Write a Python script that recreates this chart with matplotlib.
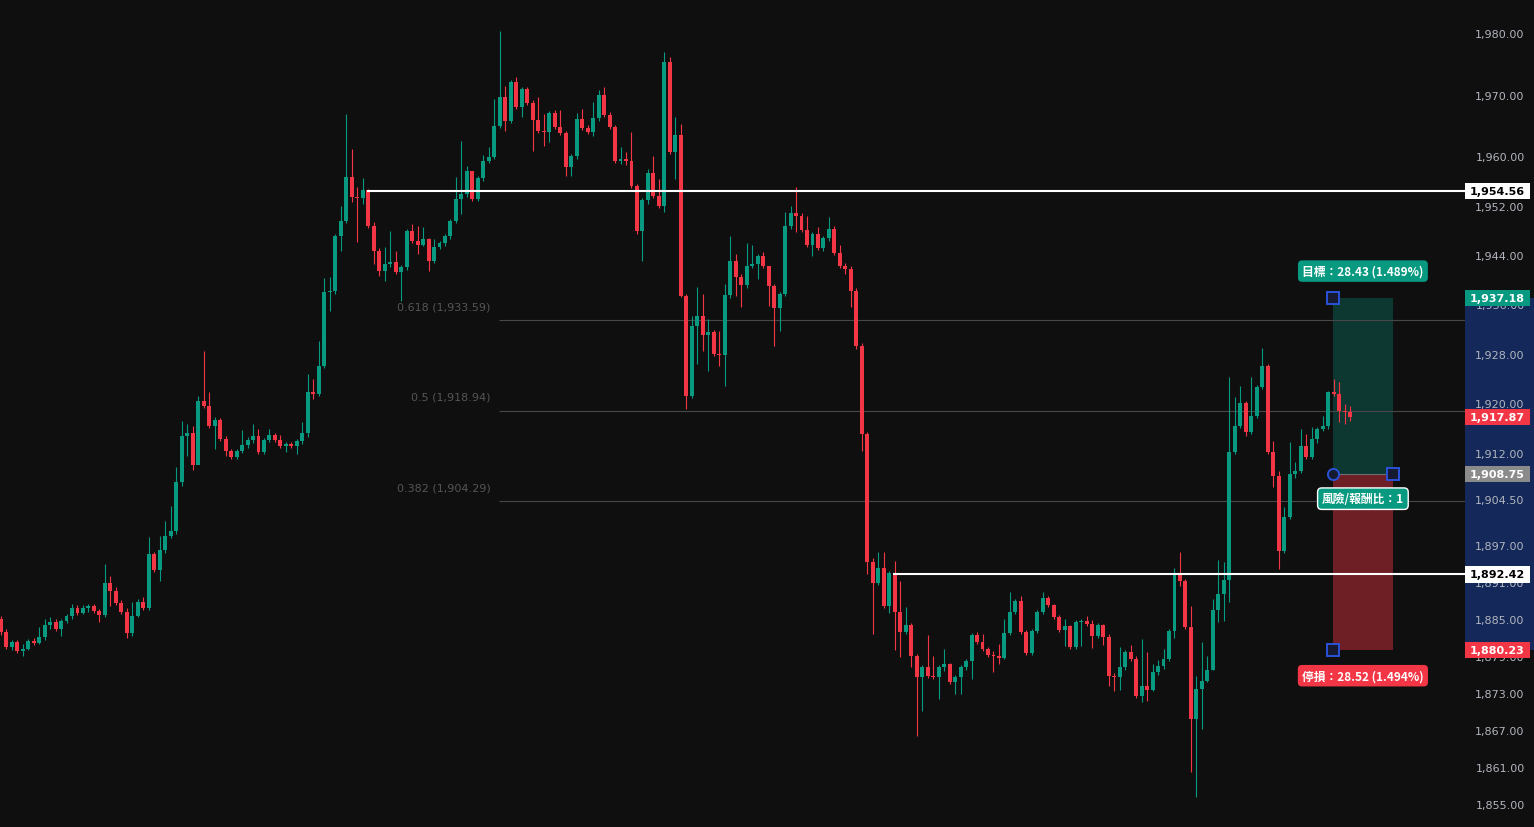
import numpy as np
import matplotlib
matplotlib.use("Agg")
import matplotlib.pyplot as plt
from matplotlib.patches import Rectangle

# ---------------- data ----------------
first_open = 1885.21
closes = [
    1883.10, 1880.67, 1881.48, 1880.03, 1880.35, 1881.65, 1881.32, 1882.29, 1884.24, 1884.72,
    1883.59, 1884.89, 1885.70, 1886.99, 1886.18, 1886.99, 1887.32, 1886.51, 1885.86, 1891.04,
    1889.75, 1887.80, 1886.34, 1882.94, 1885.70, 1887.96, 1886.99, 1895.74, 1893.15, 1896.39,
    1898.66, 1899.47, 1907.40, 1914.86, 1915.34, 1910.16, 1920.53, 1919.72, 1916.48, 1917.45,
    1914.37, 1912.43, 1911.45, 1912.43, 1913.40, 1914.21, 1914.86, 1912.26, 1914.21, 1915.02,
    1914.21, 1913.24, 1913.56, 1913.24, 1914.05, 1915.34, 1921.98, 1921.66, 1926.20, 1938.18,
    1938.35, 1947.26, 1949.69, 1956.81, 1953.57, 1953.41, 1954.71, 1948.88, 1944.83, 1941.59,
    1942.72, 1943.04, 1941.42, 1942.23, 1948.07, 1946.45, 1945.80, 1946.77, 1943.21, 1945.47,
    1946.12, 1947.26, 1949.69, 1953.25, 1954.06, 1957.79, 1953.25, 1956.65, 1959.41, 1960.05,
    1965.08, 1969.77, 1965.89, 1972.20, 1968.15, 1971.07, 1968.80, 1966.05, 1964.27, 1964.10,
    1967.18, 1964.91, 1963.94, 1958.43, 1960.22, 1966.21, 1964.75, 1964.10, 1966.37, 1970.10,
    1966.86, 1964.91, 1959.41, 1959.73, 1959.41, 1955.36, 1948.07, 1953.09, 1957.46, 1953.74,
    1952.12, 1975.44, 1960.86, 1963.62, 1937.54, 1921.34, 1932.68, 1934.30, 1931.22, 1931.70,
    1928.14, 1927.98, 1937.70, 1943.21, 1940.61, 1939.32, 1942.40, 1942.72, 1944.02, 1942.40,
    1939.16, 1935.59, 1937.86, 1948.88, 1950.98, 1950.50, 1948.23, 1945.80, 1947.58, 1945.31,
    1946.93, 1948.39, 1944.50, 1942.40, 1941.91, 1938.35, 1929.44, 1915.18, 1894.44, 1891.04,
    1893.47, 1887.32, 1892.66, 1886.34, 1883.10, 1884.24, 1879.22, 1875.81, 1877.43, 1875.98,
    1875.81, 1877.43, 1877.92, 1875.00, 1875.81, 1877.43, 1878.41, 1882.62, 1881.48, 1880.35,
    1879.38, 1879.22, 1878.89, 1882.94, 1886.34, 1888.13, 1883.10, 1879.70, 1883.27, 1886.34,
    1888.61, 1887.48, 1885.53, 1883.43, 1884.08, 1880.67, 1884.72, 1884.89, 1884.40, 1882.46,
    1884.24, 1882.29, 1875.98, 1875.81, 1877.43, 1879.86, 1878.73, 1872.74, 1874.36, 1873.71,
    1876.62, 1877.60, 1878.73, 1883.27, 1892.50, 1891.37, 1883.91, 1869.01, 1873.87, 1875.17,
    1876.95, 1886.67, 1889.26, 1891.53, 1912.26, 1916.48, 1920.20, 1915.50, 1918.10, 1922.79,
    1926.20, 1912.26, 1908.38, 1896.23, 1901.73, 1908.70, 1909.19, 1913.24, 1911.45, 1914.37,
    1915.99, 1916.48, 1921.98, 1921.66, 1918.91, 1918.74, 1917.87,
]
highs = [
    1885.70, 1883.59, 1881.81, 1881.81, 1881.16, 1881.97, 1882.13, 1883.91, 1885.21, 1885.53,
    1885.21, 1885.21, 1886.02, 1887.64, 1887.48, 1887.48, 1887.64, 1887.64, 1886.83, 1894.12,
    1892.18, 1890.39, 1888.29, 1886.99, 1887.96, 1888.45, 1888.77, 1898.49, 1896.06, 1898.66,
    1901.09, 1903.52, 1909.83, 1917.29, 1916.80, 1916.48, 1921.34, 1928.63, 1921.98, 1917.93,
    1917.77, 1914.86, 1912.75, 1912.75, 1915.83, 1914.69, 1916.80, 1915.99, 1914.53, 1915.99,
    1915.34, 1915.02, 1913.88, 1913.88, 1914.37, 1917.12, 1924.90, 1924.09, 1930.25, 1940.45,
    1940.61, 1947.58, 1952.12, 1967.02, 1961.35, 1955.19, 1956.65, 1954.87, 1949.52, 1945.31,
    1945.47, 1948.07, 1944.83, 1942.56, 1948.39, 1949.20, 1948.88, 1948.71, 1946.93, 1946.77,
    1946.45, 1947.58, 1950.01, 1956.81, 1962.65, 1958.60, 1957.79, 1956.98, 1960.38, 1961.67,
    1969.45, 1980.47, 1971.56, 1972.53, 1973.01, 1971.39, 1971.39, 1969.29, 1969.77, 1967.02,
    1967.51, 1967.67, 1967.67, 1964.27, 1960.54, 1967.18, 1967.83, 1965.24, 1968.96, 1970.91,
    1971.39, 1967.34, 1965.24, 1961.67, 1960.86, 1964.10, 1955.68, 1953.41, 1958.11, 1960.22,
    1956.49, 1977.06, 1976.25, 1966.53, 1965.40, 1937.86, 1934.30, 1938.99, 1937.86, 1933.81,
    1932.03, 1931.87, 1939.48, 1947.26, 1944.34, 1941.10, 1946.12, 1945.80, 1944.34, 1944.66,
    1942.40, 1939.48, 1938.18, 1951.14, 1952.12, 1955.19, 1950.98, 1950.50, 1947.90, 1948.71,
    1947.26, 1950.33, 1948.88, 1945.80, 1942.88, 1942.40, 1938.83, 1929.92, 1915.50, 1895.09,
    1896.06, 1896.06, 1892.99, 1894.61, 1891.37, 1887.15, 1884.56, 1879.54, 1877.76, 1882.62,
    1879.22, 1877.76, 1880.35, 1878.08, 1876.14, 1877.76, 1878.73, 1882.94, 1883.10, 1882.78,
    1880.67, 1880.03, 1881.16, 1885.21, 1889.58, 1888.45, 1888.94, 1883.43, 1883.59, 1886.67,
    1889.58, 1888.94, 1887.64, 1885.86, 1885.21, 1884.24, 1885.05, 1885.21, 1885.70, 1885.05,
    1884.56, 1884.40, 1882.78, 1876.46, 1880.67, 1880.19, 1881.00, 1879.22, 1881.97, 1879.86,
    1877.92, 1878.57, 1880.35, 1883.59, 1893.47, 1896.06, 1891.69, 1887.32, 1875.98, 1881.48,
    1879.22, 1888.45, 1894.77, 1894.44, 1924.41, 1921.17, 1922.96, 1920.53, 1924.41, 1923.12,
    1929.11, 1926.52, 1914.05, 1909.19, 1903.35, 1913.88, 1910.64, 1915.99, 1915.18, 1916.31,
    1916.31, 1918.10, 1922.15, 1924.09, 1923.60, 1920.04, 1919.72,
]
lows = [
    1882.62, 1880.35, 1880.19, 1879.70, 1879.22, 1880.19, 1881.00, 1881.16, 1881.81, 1883.59,
    1883.27, 1882.46, 1884.56, 1885.21, 1885.86, 1886.02, 1886.34, 1886.18, 1884.72, 1885.53,
    1887.32, 1887.48, 1886.02, 1882.13, 1882.46, 1885.53, 1886.67, 1886.67, 1892.82, 1891.37,
    1895.90, 1898.33, 1898.98, 1906.76, 1911.62, 1909.35, 1910.32, 1919.39, 1916.15, 1912.75,
    1914.05, 1911.62, 1911.13, 1911.13, 1912.10, 1912.91, 1913.72, 1911.94, 1911.94, 1913.88,
    1913.88, 1912.91, 1912.26, 1912.91, 1911.94, 1913.56, 1914.69, 1920.85, 1921.34, 1925.87,
    1935.11, 1937.86, 1944.83, 1949.36, 1952.76, 1946.28, 1952.44, 1948.55, 1942.72, 1940.78,
    1939.97, 1942.23, 1941.10, 1936.73, 1941.75, 1946.12, 1944.34, 1945.64, 1941.59, 1942.88,
    1945.15, 1945.64, 1946.77, 1949.36, 1950.82, 1953.57, 1952.93, 1952.93, 1956.17, 1959.08,
    1959.73, 1964.75, 1964.27, 1965.56, 1967.83, 1966.53, 1968.48, 1961.03, 1963.94, 1961.84,
    1962.48, 1964.59, 1963.62, 1956.98, 1956.98, 1959.73, 1964.43, 1963.78, 1963.46, 1965.89,
    1966.53, 1964.59, 1959.08, 1958.92, 1958.76, 1955.03, 1947.58, 1943.21, 1952.44, 1953.41,
    1951.79, 1951.14, 1960.54, 1956.49, 1937.37, 1919.23, 1921.01, 1926.52, 1928.63, 1925.39,
    1927.82, 1926.20, 1922.96, 1937.21, 1937.54, 1935.75, 1938.83, 1942.07, 1940.29, 1942.07,
    1935.92, 1929.44, 1931.87, 1937.54, 1948.39, 1947.90, 1947.90, 1945.47, 1944.02, 1944.99,
    1944.83, 1946.45, 1944.18, 1942.07, 1941.10, 1935.75, 1928.95, 1912.43, 1892.50, 1882.78,
    1890.72, 1886.99, 1886.18, 1880.19, 1879.05, 1882.78, 1877.43, 1866.26, 1870.31, 1875.65,
    1875.49, 1872.25, 1876.79, 1874.68, 1873.06, 1873.06, 1876.95, 1875.49, 1881.16, 1880.03,
    1879.05, 1876.62, 1877.92, 1878.73, 1882.62, 1886.02, 1882.78, 1879.38, 1879.38, 1882.94,
    1886.02, 1887.15, 1885.21, 1883.10, 1880.84, 1880.35, 1880.35, 1880.84, 1884.08, 1880.51,
    1882.13, 1881.00, 1874.36, 1873.55, 1873.71, 1876.95, 1878.41, 1872.41, 1871.76, 1871.93,
    1873.55, 1876.14, 1877.11, 1878.41, 1882.13, 1890.56, 1883.59, 1860.42, 1856.37, 1867.39,
    1875.00, 1876.95, 1884.72, 1884.89, 1887.96, 1911.94, 1916.15, 1914.86, 1915.18, 1917.77,
    1922.47, 1911.94, 1906.59, 1893.31, 1895.90, 1901.41, 1908.05, 1908.86, 1911.13, 1911.13,
    1913.72, 1915.67, 1915.99, 1921.34, 1917.12, 1916.80, 1917.29,
]

ytick_values = [1980, 1970, 1960, 1952, 1944, 1936, 1928, 1920, 1912, 1904.5,
                1897, 1891, 1885, 1879, 1873, 1867, 1861, 1855]

hline_starts = [67, 163]
hline_prices = [1954.56, 1892.42]

fib_start = 91
fib_names = ["0.618", "0.5", "0.382"]
fib_prices = [1933.59, 1918.94, 1904.29]

entry_price = 1908.75
target_price = 1937.18
stop_price = 1880.23
last_price = 1917.87
pos_start, pos_end = 242.9, 253.8
target_text = "目標：28.43 (1.489%)"
stop_text = "停損：28.52 (1.494%)"
rr_text = "風險/報酬比：1"

# ---------------- style ----------------
BG = "#0f0f0f"
UP = "#089981"
DOWN = "#f23645"
CJK = ["Noto Sans CJK TC", "DejaVu Sans"]

W, H = 1534, 828
plot_w = 1465
fig = plt.figure(figsize=(W / 100, H / 100), dpi=100, facecolor=BG)

ax = fig.add_axes([0, 0, plot_w / W, 1])
ax.set_facecolor(BG)
y_lo, y_hi = 1851.51, 1985.65
x_lo = -0.128
x_hi = x_lo + plot_w / 5.485
ax.set_xlim(x_lo, x_hi)
ax.set_ylim(y_lo, y_hi)
ax.axis("off")

closes_a = np.array(closes)
opens_a = np.concatenate([[first_open], closes_a[:-1]])
highs_a = np.array(highs)
lows_a = np.array(lows)
n = len(closes_a)
xs = np.arange(n)
cols = np.where(closes_a >= opens_a, UP, DOWN)

ax.vlines(xs, lows_a, highs_a, colors=cols, linewidth=0.8, zorder=3)
body_bottom = np.minimum(opens_a, closes_a)
body_h = np.maximum(np.abs(closes_a - opens_a), 0.17)
ax.bar(xs, body_h, bottom=body_bottom, width=0.72, color=cols, linewidth=0, zorder=4)

# fib lines
for name, p in zip(fib_names, fib_prices):
    ax.hlines(p, fib_start - 0.2, x_hi, colors="#474747", linewidth=0.8, zorder=2)
    ax.annotate(f"{name} ({p:,.2f})", (fib_start, p), xytext=(-6.5, 10),
                textcoords="offset points", ha="right", va="center",
                color="#555555", fontsize=8, zorder=2)

# white horizontal levels
for s, p in zip(hline_starts, hline_prices):
    ax.hlines(p, s - 0.3, x_hi, colors="white", linewidth=1.5, zorder=5)

# position tool
ax.add_patch(Rectangle((pos_start, entry_price), pos_end - pos_start, target_price - entry_price,
                       facecolor=UP, alpha=0.3, linewidth=0, zorder=1))
ax.add_patch(Rectangle((pos_start, stop_price), pos_end - pos_start, entry_price - stop_price,
                       facecolor=DOWN, alpha=0.42, linewidth=0, zorder=1))
ax.hlines(entry_price, pos_start, pos_end, colors="#6b6e77", linewidth=0.8, zorder=2)

hkw = dict(linestyle="none", markersize=8, markerfacecolor="#151a30",
           markeredgecolor="#2a52d8", markeredgewidth=1.4, zorder=8, clip_on=False)
ax.plot([pos_start, pos_start, pos_end], [target_price, stop_price, entry_price], marker="s", **hkw)
ax.plot([pos_start], [entry_price], marker="o", **hkw)

mid = (pos_start + pos_end) / 2
box = dict(boxstyle="round,pad=0.36,rounding_size=0.35")
ax.annotate(target_text, (mid, target_price), xytext=(0, 19.5), textcoords="offset points",
            ha="center", va="center", color="white", fontsize=8.5, fontweight="bold",
            family=CJK, zorder=9, bbox=dict(box, fc=UP, ec="none"))
ax.annotate(stop_text, (mid, stop_price), xytext=(0, -18.7), textcoords="offset points",
            ha="center", va="center", color="white", fontsize=8.5, fontweight="bold",
            family=CJK, zorder=9, bbox=dict(box, fc=DOWN, ec="none"))
ax.annotate(rr_text, (mid, entry_price), xytext=(0, -18), textcoords="offset points",
            ha="center", va="center", color="white", fontsize=8.5, fontweight="bold",
            family=CJK, zorder=9, bbox=dict(box, fc=UP, ec="white", lw=1.0))

# ---------------- price scale ----------------
ax2 = fig.add_axes([plot_w / W, 0, (W - plot_w) / W, 1])
ax2.set_facecolor(BG)
ax2.set_xlim(0, W - plot_w)
ax2.set_ylim(y_lo, y_hi)
ax2.axis("off")

ax2.add_patch(Rectangle((0, stop_price), W - plot_w, target_price - stop_price,
                        facecolor="#14295a", linewidth=0, zorder=1))
for v in ytick_values:
    ax2.text(35, v, f"{v:,.2f}", ha="center", va="center", color="#b2b5be",
             fontsize=8, zorder=2)

box_h = 2.6
labels = [
    (1954.56, "white", "#000000"),
    (target_price, UP, "white"),
    (last_price, DOWN, "white"),
    (entry_price, "#8b8b8b", "white"),
    (1892.42, "white", "#000000"),
    (stop_price, DOWN, "white"),
]
for v, fc, tc in labels:
    ax2.add_patch(Rectangle((0, v - box_h / 2), 65, box_h, facecolor=fc, linewidth=0, zorder=3))
    ax2.text(32.5, v, f"{v:,.2f}", ha="center", va="center", color=tc, fontsize=8,
             fontweight="bold", zorder=4)

fig.savefig("out.png", dpi=100, facecolor=BG)
